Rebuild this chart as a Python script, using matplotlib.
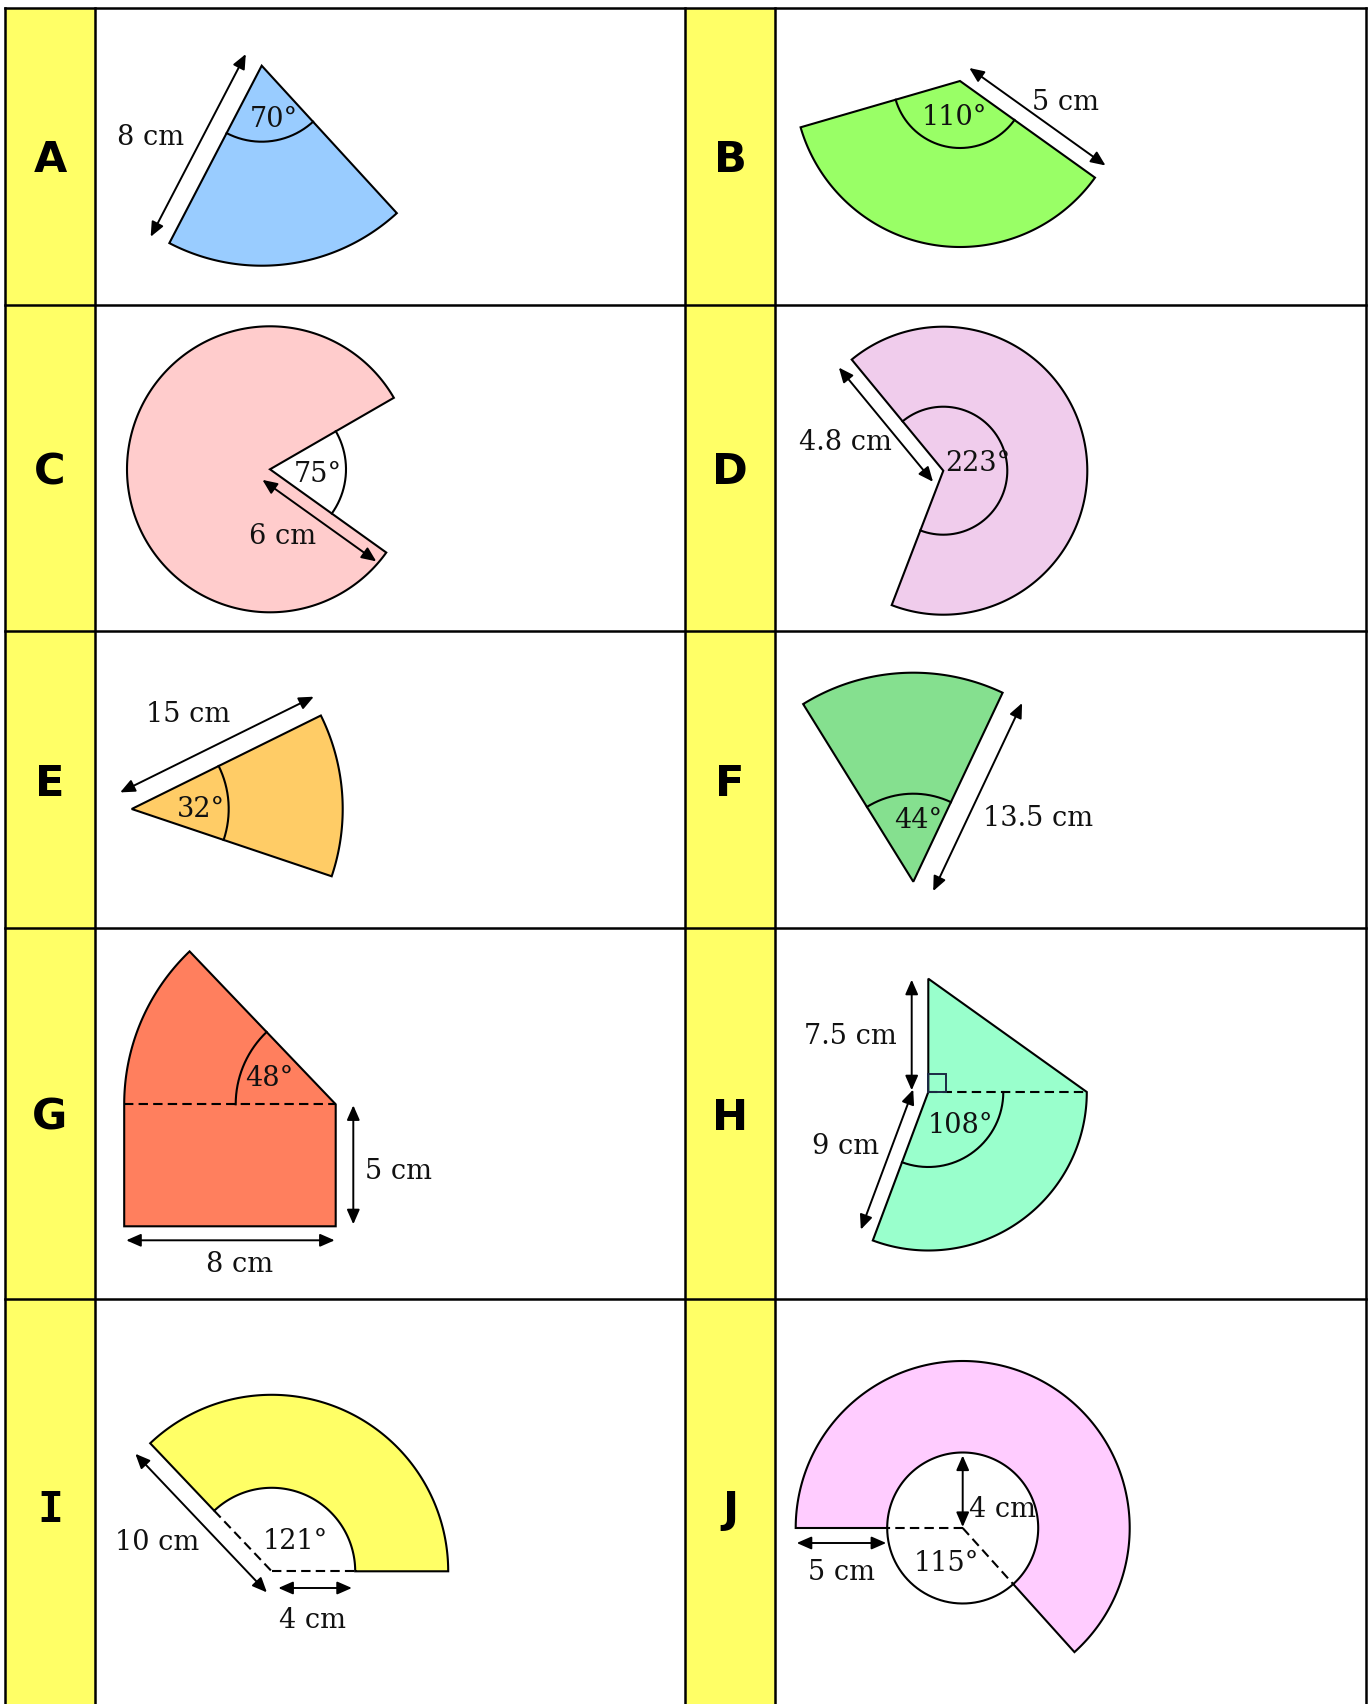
import numpy as np
import matplotlib.pyplot as plt
from matplotlib.patches import Polygon, Rectangle, FancyArrowPatch

# ── Data ─────────────────────────────────────────────────────
letters = ['A', 'B', 'C', 'D', 'E', 'F', 'G', 'H', 'I', 'J']
fills = ['#99CCFF', '#99FF66', '#FFCCCC', '#F0CCEC', '#FFCC66',
         '#85E08F', '#FF7F5E', '#99FFCC', '#FFFF66', '#FFCCFF']
angle_labels = ['70°', '110°', '75°', '223°', '32°',
                '44°', '48°', '108°', '121°', '115°']
length_labels = [['8 cm'], ['5 cm'], ['6 cm'], ['4.8 cm'], ['15 cm'],
                 ['13.5 cm'], ['5 cm', '8 cm'], ['7.5 cm', '9 cm'],
                 ['10 cm', '4 cm'], ['4 cm', '5 cm']]
# sectors as drawn (degrees anticlockwise from east)
sector_from = [-117.5, 196.2, 30.0, -111.0, -18.6, 64.7, 133.7, -110.5, 0.0, -48.0]
sector_to = [-47.5, 324.4, 324.4, 129.5, 26.3, 121.8, 180.0, 0.0, 133.5, 180.0]

# ── Layout (pixels) ──────────────────────────────────────────
W, H = 1371, 1704
row_y = [7.5, 304.5, 631, 927.5, 1299]
col_x = [5, 95, 685, 775, 1366]
YELLOW = '#FFFF66'
LW = 1.5

fig = plt.figure(figsize=(W / 100, H / 100), dpi=100)
ax = fig.add_axes([0, 0, 1, 1])
ax.set_xlim(0, W)
ax.set_ylim(H, 0)
ax.axis('off')


def arc(c, r, a1, a2, n=240):
    t = np.radians(np.linspace(a1, a2, n))
    return np.column_stack([c[0] + r * np.cos(t), c[1] - r * np.sin(t)])


def pt(c, r, a):
    return arc(c, r, a, a, 1)[0]


def shape(pts, fc):
    ax.add_patch(Polygon(np.asarray(pts), closed=True, fc=fc, ec='black',
                         lw=LW, joinstyle='miter', zorder=2))


def line(pts, **kw):
    pts = np.asarray(pts)
    ax.plot(pts[:, 0], pts[:, 1], color='black', lw=LW, zorder=3, **kw)


def dashed(p, q):
    line([p, q], ls=(0, (4.5, 2.5)))


def dim(p, q, off, e1=0, e2=0):
    p, q = np.asarray(p, float), np.asarray(q, float)
    d = (q - p) / np.hypot(*(q - p))
    n = np.array([d[1], -d[0]])
    a = p + n * off - d * e1
    b = q + n * off + d * e2
    ax.add_patch(FancyArrowPatch(a, b, arrowstyle='<|-|>,head_length=0.8,head_width=0.35',
                                 mutation_scale=11, lw=1.4, color='black',
                                 shrinkA=0, shrinkB=0, zorder=4))


def label(x, y, s):
    ax.text(x, y + 2, s, ha='center', va='center', fontsize=19.5,
            family='DejaVu Serif', color='#111111', zorder=5)


# ── Table ────────────────────────────────────────────────────
for x0, x1 in [(col_x[0], col_x[1]), (col_x[2], col_x[3])]:
    ax.add_patch(Rectangle((x0, row_y[0]), x1 - x0, H - row_y[0], fc=YELLOW, ec='none', zorder=0))
for y in row_y:
    ax.plot([col_x[0], col_x[-1]], [y, y], color='black', lw=1.8, zorder=1)
for x in col_x:
    ax.plot([x, x], [row_y[0], H + 5], color='black', lw=1.8, zorder=1)

row_mid = [159.5, 472.5, 783.5, 1117.5, 1510]
for i, s in enumerate(letters):
    x = 50 if i % 2 == 0 else 730
    fam = 'DejaVu Sans Mono' if s == 'I' else 'DejaVu Sans'
    ax.text(x, row_mid[i // 2], s, ha='center', va='center', fontsize=31,
            fontweight='bold', family=fam)

# ── A ────────────────────────────────────────────────────────
c, r = (261.7, 65.7), 200
a1, a2 = sector_from[0], sector_to[0]
shape(np.vstack([c, arc(c, r, a1, a2)]), fills[0])
line(arc(c, 76, a1, a2))
dim(c, pt(c, r, a1), -19.5, 3, 3)
label(274, 117.7, angle_labels[0])
label(150.5, 135.7, length_labels[0][0])

# ── B ────────────────────────────────────────────────────────
c, r = (960, 81), 166
a1, a2 = sector_from[1], sector_to[1]
shape(np.vstack([c, arc(c, r, a1, a2)]), fills[1])
line(arc(c, 67, a1, a2))
dim(c, pt(c, r, a2), 16, 0, 1.5)
label(954.3, 115.7, angle_labels[1])
label(1065.7, 100.5, length_labels[1][0])

# ── C ────────────────────────────────────────────────────────
c, r = (270, 469.3), 143
a1, a2 = sector_from[2], sector_to[2]
shape(np.vstack([c, arc(c, r, a1, a2)]), fills[2])
line(arc(c, 76, a2 - 360, a1))
dim(c, pt(c, r, a2), -13, 0, -3)
label(318.3, 472.8, angle_labels[2])
label(282.2, 534.5, length_labels[2][0])

# ── D ────────────────────────────────────────────────────────
c, r = (943.3, 470.7), 144
a1, a2 = sector_from[3], sector_to[3]
shape(np.vstack([c, arc(c, r, a1, a2)]), fills[3])
line(arc(c, 64, a1, a2))
dim(c, pt(c, r, a2), 15, 2, 2)
label(978.3, 461.7, angle_labels[3])
label(845, 440.3, length_labels[3][0])

# ── E ────────────────────────────────────────────────────────
c, r = (131.7, 809), 211
a1, a2 = sector_from[4], sector_to[4]
shape(np.vstack([c, arc(c, r, a1, a2)]), fills[4])
line(arc(c, 97, a1, a2))
dim(c, pt(c, r, a2), 20, 3, 2)
label(200.5, 807.2, angle_labels[4])
label(187.8, 712.5, length_labels[4][0])

# ── F ────────────────────────────────────────────────────────
c, r = (913.3, 881.7), 209
a1, a2 = sector_from[5], sector_to[5]
shape(np.vstack([c, arc(c, r, a1, a2)]), fills[5])
line(arc(c, 88, a1, a2))
dim(c, pt(c, r, a1), -22, 0, -1)
label(918.3, 818, angle_labels[5])
label(1038.3, 817, length_labels[5][0])

# ── G ────────────────────────────────────────────────────────
c, r, h = (335.7, 1104.3), 211.5, 122
a1, a2 = sector_from[6], sector_to[6]
shape(np.vstack([c, arc(c, r, a1, a2), [c[0] - r, c[1] + h], [c[0], c[1] + h]]), fills[6])
dashed(pt(c, r, a2), c)
line(arc(c, 100, a1, a2))
dim(c, (c[0], c[1] + h), 17.6, -1, -2)
dim((c[0] - r, c[1] + h), (c[0], c[1] + h), -14, -2, -1)
label(269.7, 1076.5, angle_labels[6])
label(398.8, 1169.2, length_labels[6][0])
label(239.7, 1262, length_labels[6][1])

# ── H ────────────────────────────────────────────────────────
c, r, h = (928.3, 1092), 158.5, 113.3
a1, a2 = sector_from[7], sector_to[7]
top = (c[0], c[1] - h)
shape(np.vstack([c, top, pt(c, r, a2), arc(c, r, a2, a1)]), fills[7])
dashed(c, pt(c, r, a2))
line(arc(c, 75, a1, a2))
ax.add_patch(Rectangle((c[0], c[1] - 18), 18, 18, fill=False, ec='#1b2a44', lw=1.4, zorder=3))
dim(top, c, -16.6, -1, -1.7)
dim(c, pt(c, r, a1), -15, -3, -6)
label(960, 1123.7, angle_labels[7])
label(850, 1034.5, length_labels[7][0])
label(845.8, 1144.2, length_labels[7][1])

# ── I ────────────────────────────────────────────────────────
c, R, r = (271.7, 1571.3), 176.5, 83.5
a1, a2 = sector_from[8], sector_to[8]
shape(np.vstack([arc(c, R, a1, a2), arc(c, r, a2, a1)]), fills[8])
dashed(pt(c, r, a2), c)
dashed(c, pt(c, r, a1))
dim(pt(c, R, a2), c, -18, 2.6, 12)
dim(c, pt(c, r, a1), -16.7, -6.6, -3.3)
label(295.8, 1539.7, angle_labels[8])
label(156.7, 1541, length_labels[8][0])
label(312.5, 1618, length_labels[8][1])

# ── J ────────────────────────────────────────────────────────
c, R, r = (962.7, 1528), 167, 75.5
a1, a2 = sector_from[9], sector_to[9]
shape(np.vstack([arc(c, R, a1, a2), arc(c, r, a2, a1)]), fills[9])
line(arc(c, r, a2, a1 + 360))
dashed(c, pt(c, r, a2))
dashed(c, pt(c, r, a1))
dim(pt(c, r, 90), c, 0, -3, -1)
dim(pt(c, R, a2), pt(c, r, a2), -15, -1, -1)
label(946.7, 1561.3, angle_labels[9])
label(1002.2, 1507.2, length_labels[9][0])
label(842, 1570.2, length_labels[9][1])

fig.savefig('out.png', dpi=100)
